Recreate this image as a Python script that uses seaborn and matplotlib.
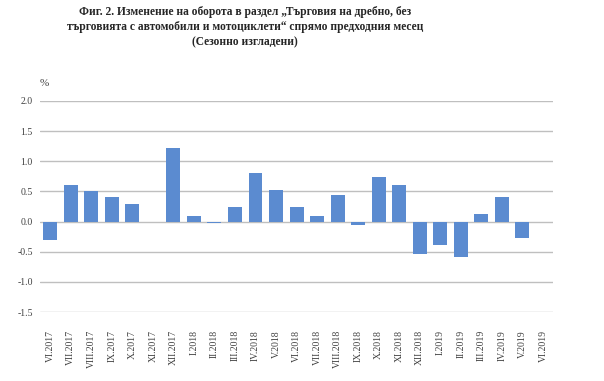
import numpy as np
import pandas as pd
import seaborn as sns
import matplotlib.pyplot as plt

# Данни (оборот, % спрямо предходния месец)
months = ['VI.2017', 'VII.2017', 'VIII.2017', 'IX.2017', 'X.2017', 'XI.2017',
          'XII.2017', 'I.2018', 'II.2018', 'III.2018', 'IV.2018', 'V.2018',
          'VI.2018', 'VII.2018', 'VIII.2018', 'IX.2018', 'X.2018', 'XI.2018',
          'XII.2018', 'I.2019', 'II.2019', 'III.2019', 'IV.2019', 'V.2019',
          'VI.2019']
change = [-0.30, 0.60, 0.51, 0.41, 0.29, np.nan,
          1.22, 0.10, -0.03, 0.25, 0.81, 0.53,
          0.25, 0.10, 0.44, -0.06, 0.74, 0.60,
          -0.54, -0.39, -0.58, 0.13, 0.41, -0.28,
          np.nan]
yticks = [-1.5, -1.0, -0.5, 0.0, 0.5, 1.0, 1.5, 2.0]

df = pd.DataFrame({'month': months, 'change': change})

sns.set_style('white')
plt.rcParams['font.family'] = ['Liberation Serif', 'DejaVu Serif']

fig = plt.figure(figsize=(6.04, 3.81), dpi=100)
ax = fig.add_axes([0.066, 0.181, 0.85, 0.554])
ax.set_axisbelow(True)

sns.barplot(data=df, x='month', y='change', order=months, color='#5b8bd0',
            saturation=1, width=0.68, linewidth=0, ax=ax)

ax.set_ylim(-1.5, 2.0)
ax.set_yticks(yticks)
ax.set_yticklabels([f'{v:.1f}' for v in yticks], fontsize=7, color='#404040')
ax.set_xlim(-0.5, len(months) - 0.5)
ax.set_xlabel('')
ax.set_ylabel('')
ax.grid(axis='y', color='#bfbfbf', linewidth=1)
ax.grid(axis='x', visible=False)
for s in ax.spines.values():
    s.set_visible(False)
ax.tick_params(axis='x', labelrotation=90, labelsize=7, pad=13, length=0,
               labelcolor='#404040')
ax.tick_params(axis='y', pad=5, length=0)
for lab in ax.get_xticklabels():
    lab.set_verticalalignment('top')

fig.text(0.066, 0.78, '%', fontsize=8, color='#404040', ha='left', va='center')

fig.text(0.406, 0.985,
         'Фиг. 2. Изменение на оборота в раздел „Търговия на дребно, без\n'
         'търговията с автомобили и мотоциклети“ спрямо предходния месец\n'
         '(Сезонно изгладени)',
         fontsize=8.3, fontweight='bold', ha='center', va='top',
         linespacing=1.35)

fig.savefig('out.png', dpi=100)
